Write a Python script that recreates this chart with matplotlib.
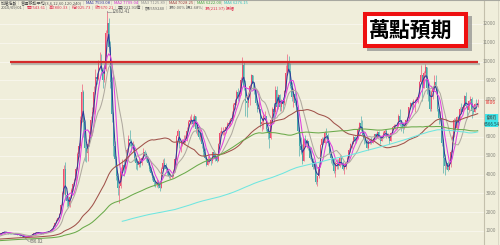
import matplotlib
matplotlib.use("Agg")
import matplotlib.pyplot as plt
import matplotlib.patheffects as pe
from matplotlib.patches import Rectangle
import numpy as np

plt.rcParams['font.family'] = ['Noto Sans CJK TC', 'DejaVu Sans']

# monthly closes before the visible range (1971/01 - 1984/02), only feed the long MAs
hist_close = [
    128, 126, 130, 135, 137, 133, 130, 131, 128, 126, 127, 132,
    135, 140, 150, 160, 155, 150, 160, 170, 180, 195, 210, 228,
    240, 260, 290, 330, 360, 350, 380, 420, 470, 500, 460, 412,
    380, 340, 320, 300, 290, 270, 250, 240, 230, 210, 200, 196,
    230, 270, 300, 320, 330, 340, 320, 330, 340, 335, 345, 348,
    360, 370, 380, 375, 365, 360, 370, 380, 375, 365, 370, 373,
    380, 390, 400, 410, 400, 395, 410, 420, 430, 440, 450, 460,
    470, 500, 530, 560, 600, 620, 650, 680, 688, 640, 600, 583,
    575, 560, 550, 560, 570, 565, 555, 545, 550, 555, 550, 553,
    545, 535, 520, 525, 530, 540, 550, 560, 565, 570, 565, 569,
    575, 580, 585, 590, 580, 570, 560, 555, 550, 545, 548, 551,
    540, 520, 500, 490, 480, 460, 450, 440, 430, 425, 435, 444,
    470, 510, 560, 600, 650, 700, 720, 740, 730, 750, 760, 762,
    800, 840,
]

# visible months 1984/03 - 2010/09
close = [
    880, 930, 960, 930, 900, 880, 870, 850, 840, 838,
    830, 810, 790, 760, 720, 690, 660, 680, 700, 730, 790, 835,
    880, 900, 910, 930, 880, 870, 900, 930, 940, 950, 980, 1039,
    1130, 1280, 1450, 1600, 1700, 1900, 2400, 3000, 4300, 2900, 2600, 2340,
    2800, 3200, 3500, 3700, 4300, 5100, 5500, 6900, 8400, 6800, 5400, 5119,
    5600, 6100, 6900, 7300, 8400, 9200, 9100, 9900, 9900, 9500, 9000, 9624,
    11500, 12050, 10800, 8900, 7200, 5500, 4800, 3900, 3300, 3400, 4200, 4530,
    4300, 4800, 5300, 5900, 5800, 5500, 5500, 4900, 4600, 4500, 4700, 4600,
    4900, 5200, 5100, 4900, 4600, 4300, 4100, 3800, 3600, 3500, 3600, 3377,
    3300, 4300, 4600, 4500, 4300, 4100, 3900, 3900, 3900, 4200, 4800, 6070,
    6300, 5600, 5600, 5700, 5800, 5900, 6300, 6800, 6900, 6900, 6700, 7124,
    6400, 6500, 6000, 6200, 5600, 5200, 4900, 4500, 4800, 4800, 4700, 5173,
    5000, 4800, 4700, 5600, 6200, 6300, 6300, 6300, 6500, 6700, 6700, 6933,
    7000, 7700, 7800, 8400, 8100, 8300, 9000, 9800, 8700, 7900, 7800, 8187,
    8700, 9300, 8800, 8500, 7800, 7500, 7500, 6700, 6800, 7100, 7100, 6418,
    6200, 5950, 6900, 7500, 7300, 8500, 7600, 8200, 7600, 7900, 7800, 8448,
    9400, 9900, 9500, 8700, 8100, 8300, 7800, 7600, 6300, 5500, 5300, 4739,
    5900, 5700, 5800, 5400, 4900, 4800, 4400, 4600, 3600, 3900, 4400, 5551,
    5900, 5700, 6200, 6100, 5700, 5100, 4900, 4800, 4190, 4580, 4600, 4452,
    4900, 4550, 4300, 4400, 4600, 4900, 5300, 5600, 5600, 6000, 5800, 5890,
    6400, 6750, 6500, 6100, 5900, 5800, 5400, 5800, 5850, 5700, 5850, 6139,
    6000, 6250, 6000, 5800, 6000, 6200, 6300, 6000, 6100, 5800, 6200, 6548,
    6600, 6600, 6600, 7100, 6800, 6700, 6500, 6600, 6900, 7000, 7600, 7823,
    7700, 7900, 7900, 8000, 8100, 8900, 9300, 8600, 9400, 9700, 8600, 8506,
    7500, 8400, 8600, 8900, 8600, 7500, 7000, 7000, 5700, 4900, 4460, 4591,
    4250, 4550, 5200, 6000, 6900, 6450, 7080, 6830, 7500, 7340, 7580, 8188,
    7640, 7440, 7920, 8000, 7370, 7330, 7760, 7620, 7806,
]

high = [
    890, 945, 975, 965, 935, 905, 890, 875, 860, 850,
    850, 840, 815, 795, 765, 725, 695, 690, 710, 740, 800, 845,
    900, 920, 925, 950, 935, 890, 910, 945, 960, 965, 995, 1050,
    1150, 1300, 1480, 1640, 1760, 1950, 2450, 3100, 4500, 4673, 3100, 2700,
    2900, 3300, 3600, 3800, 4400, 5200, 5700, 7100, 8789, 8500, 6900, 5700,
    5900, 6300, 7100, 7600, 8700, 9600, 9400, 10100, 10500, 10400, 9700, 9800,
    11700, 12682, 12300, 11100, 9200, 7300, 5800, 5000, 4100, 3700, 4400, 4800,
    4800, 4900, 5400, 6100, 6365, 5900, 5800, 5600, 5000, 4800, 4900, 4800,
    5000, 5391, 5300, 5200, 5000, 4700, 4400, 4200, 3900, 3700, 3750, 3700,
    3450, 4400, 4800, 4900, 4600, 4400, 4200, 4100, 4000, 4300, 4900, 6100,
    6400, 6300, 5800, 5900, 6100, 6100, 6500, 6900, 7100, 7228, 7100, 7200,
    7100, 6800, 6600, 6400, 6200, 5700, 5400, 5000, 5000, 5000, 4900, 5200,
    5300, 5100, 4900, 5700, 6300, 6500, 6500, 6400, 6600, 6800, 6900, 7000,
    7400, 7800, 8000, 8500, 8600, 8500, 9200, 10256, 10000, 9000, 8100, 8400,
    8800, 9337, 9300, 8900, 8600, 7900, 8000, 7500, 7000, 7300, 7400, 7100,
    6500, 6300, 7000, 7600, 7800, 8700, 8700, 8300, 8300, 8000, 8100, 8500,
    9800, 10393, 10300, 9900, 8900, 8600, 8500, 8100, 7700, 6500, 6000, 5600,
    5950, 6100, 5900, 5800, 5500, 5300, 4900, 4700, 4500, 3900, 4500, 5600,
    6000, 6000, 6300, 6484, 6200, 5800, 5200, 5000, 4900, 4700, 4800, 4800,
    5050, 5000, 4700, 4600, 4700, 5000, 5400, 5700, 5800, 6100, 6050, 6000,
    6500, 6800, 7135, 6900, 6300, 6100, 5900, 5800, 5900, 6000, 5950, 6150,
    6200, 6300, 6300, 6100, 6100, 6300, 6400, 6400, 6200, 6150, 6250, 6550,
    6700, 6700, 6700, 7200, 7474, 6900, 6800, 6750, 6950, 7050, 7600, 7850,
    7900, 8000, 8000, 8100, 8200, 8950, 9800, 9300, 9500, 9859, 9700, 8800,
    8500, 8500, 8700, 9300, 9309, 8700, 7600, 7400, 7100, 5900, 5100, 4700,
    4700, 4700, 5300, 6100, 7000, 7000, 7100, 7100, 7600, 7800, 7700, 8200,
    8395, 7650, 7950, 8190, 8100, 7600, 7800, 8000, 8000,
]

low = [
    835, 875, 920, 915, 890, 865, 855, 840, 830, 825,
    815, 800, 780, 750, 710, 680, 636, 650, 670, 695, 725, 780,
    830, 870, 890, 905, 870, 855, 860, 895, 915, 925, 940, 975,
    1030, 1120, 1270, 1430, 1580, 1680, 1880, 2380, 2950, 2650, 2300, 2250,
    2300, 2750, 3100, 3400, 3650, 4250, 4950, 5400, 6800, 6000, 4700, 4650,
    4700, 5500, 6000, 6800, 7200, 8300, 8800, 9000, 9600, 9300, 8600, 8900,
    9500, 11200, 10500, 8600, 6800, 5000, 4400, 3700, 2900, 2485, 3300, 4100,
    3900, 4250, 4700, 5200, 5500, 5200, 5200, 4700, 4300, 4250, 4400, 4400,
    4500, 4800, 4900, 4700, 4500, 4200, 4000, 3700, 3400, 3327, 3350, 3300,
    3135, 3300, 4200, 4300, 4200, 3980, 3800, 3740, 3800, 3850, 4150, 4750,
    5800, 5400, 5200, 5500, 5600, 5700, 5800, 6300, 6700, 6700, 6500, 6600,
    6200, 6100, 5900, 5800, 5400, 5000, 4800, 4474, 4500, 4600, 4500, 4600,
    4900, 4700, 4672, 4700, 5600, 6100, 6100, 6100, 6200, 6400, 6500, 6600,
    6800, 6900, 7500, 7700, 7900, 8000, 8200, 8900, 8500, 7100, 7040, 7600,
    7700, 8600, 8500, 8300, 7700, 7300, 7300, 6500, 6300, 6400, 6900, 6300,
    5900, 5422, 5900, 6800, 7000, 7200, 7400, 7500, 7400, 7400, 7400, 7700,
    8400, 9300, 8900, 8600, 7900, 7600, 7700, 7400, 6200, 5000, 5100, 4555,
    4700, 5600, 5400, 5300, 4800, 4700, 4300, 4300, 3500, 3411, 3800, 4400,
    5500, 5600, 5700, 5900, 5500, 5100, 4600, 4500, 4100, 3850, 4300, 4300,
    4400, 4500, 4250, 4044, 4300, 4600, 4900, 5200, 5400, 5600, 5700, 5700,
    5900, 6300, 6300, 6100, 5600, 5700, 5400, 5316, 5600, 5600, 5700, 5800,
    5900, 6000, 6000, 5600, 5800, 6000, 6100, 5950, 5950, 5618, 5800, 6200,
    6400, 6400, 6400, 6600, 6600, 6300, 6230, 6400, 6600, 6800, 7000, 7500,
    7300, 7500, 7300, 7900, 7800, 8100, 8800, 7900, 8600, 9200, 8300, 7900,
    7384, 7400, 8000, 8500, 8500, 7400, 6700, 6900, 5500, 4100, 3955, 4300,
    4164, 4300, 4400, 5200, 6000, 6300, 6400, 6500, 6900, 7300, 7400, 7500,
    7600, 7000, 7400, 7750, 7000, 7200, 7300, 7500, 7600,
]

ma_periods = [3, 6, 12, 60, 120, 240]
y_ticks = [1000, 2000, 3000, 4000, 5000, 6000, 7000, 8000, 9000, 10000, 11000, 12000]
target_level = 10000
peak_text = '12682.41'
low_text = '636.02'
title_text = '萬點預期'

header_row1 = [
    ('加權指數', '#505050'),
    ('普通移動平均(3,6,12,60,120,240)', '#505050'),
    ('MA1 7593.08', '#3030a0'),
    ('MA2 7709.04', '#d030d0'),
    ('MA3 7125.89', '#909090'),
    ('MA4 7028.25', '#a04040'),
    ('MA5 6222.00', '#40a040'),
    ('MA6 6276.15', '#30c0c0'),
]
header_row2 = [
    ('2010/09/01', '#505050'),
    ('開7543.61', '#e03050'),
    ('高7800.33', '#e03050'),
    ('低7025.73', '#e03050'),
    ('收7670.21', '#e03050'),
    ('量3221.91億', '#606060'),
    ('額5559240', '#606060'),
    ('漲0.00% 振2.68%', '#606060'),
    ('漲(211.97) 振幅', '#e03050'),
]

ma_colors = ['#2c3a9a', '#e040e0', '#b0aaa0', '#a0524a', '#6aaa4a', '#6ee6e0']
bg = '#f0eedb'
up_col = '#ee4f70'
down_col = '#45aaa8'

W, H = 500, 245


def fx(px):
    return px / W


def fy(py):
    return 1 - py / H


fig = plt.figure(figsize=(5.0, 2.45), dpi=100, facecolor=bg)
ax = fig.add_axes([0, 0, 484 / W, 1])
ax.set_facecolor(bg)
ax.set_xlim(-0.5, 322.2)
ax.set_ylim(255, 13273)
ax.axis('off')

for t in y_ticks:
    ax.axhline(t, color='#f8f6ec', lw=0.7, zorder=0)

n = len(close)
xs = np.arange(n)
opens = np.array([hist_close[-1]] + close[:-1], dtype=float)
c = np.array(close, dtype=float)
up = c >= opens
cols = np.where(up, up_col, down_col)
ax.vlines(xs, low, high, colors=cols, lw=0.45, zorder=2)
body = np.where(np.abs(c - opens) < 30, 30, c - opens)
ax.bar(xs, body, bottom=opens, width=0.6, color=cols, linewidth=0, zorder=2)

full = np.array(hist_close + close, dtype=float)
offset = len(hist_close)
for p, col in zip(ma_periods, ma_colors):
    ma = np.convolve(full, np.ones(p) / p, mode='valid')
    mx = np.arange(p - 1, len(full)) - offset
    keep = mx >= -1
    ax.plot(mx[keep], ma[keep], color=col, lw=0.75, zorder=3)

# 10000 target line with a soft shadow
ax.plot([6, 318.5], [target_level, target_level], color='#d42a2a', lw=1.6, zorder=4,
        solid_capstyle='butt',
        path_effects=[pe.SimpleLineShadow(offset=(0.8, -1.6), shadow_color='#777', alpha=0.45),
                      pe.Normal()])

# peak / low markers (leaders in data units, labels in pixels)
ipk = int(np.argmax(high))
ax.plot([ipk, ipk, ipk + 2.5], [high[ipk], 12660, 12660], color='#909090', lw=0.5, zorder=4)
fig.text(fx(112), fy(11.6), peak_text, fontsize=3.2, color='#606060', va='center', ha='left')
ilo = int(np.argmin(low))
ax.plot([ilo, ilo + 3], [low[ilo], 430], color='#909090', lw=0.5, zorder=4)
ax.text(ilo + 3.5, 430, low_text, fontsize=3.2, color='#606060', va='center', zorder=5)

# right scale strip
fig.add_artist(plt.Line2D([fx(484), fx(484)], [0, 1], color='#c4c0ac', lw=0.8))
fig.add_artist(plt.Line2D([fx(497.5), fx(497.5)], [0, 1], color='#d8d4c2', lw=0.6))
fig.add_artist(plt.Line2D([0, 1], [fy(0.5), fy(0.5)], color='#a8a8a0', lw=0.8))
for t in y_ticks:
    ypix = 249.8 - t * 0.01882
    fig.text(fx(496), fy(ypix), str(t), fontsize=3.4, color='#8a8a80',
             ha='right', va='center')

fig.text(fx(496), fy(103), '7806', fontsize=3.6, color='#e83030', ha='right', va='center')
fig.add_artist(Rectangle((fx(484.5), fy(127.5)), fx(14), 13.5 / H, transform=fig.transFigure,
                         facecolor='#3ee6ea', edgecolor='none'))
fig.text(fx(491.5), fy(117.5), '(267)', fontsize=3.2, color='#204040', ha='center', va='center')
fig.text(fx(491.5), fy(124), '6566.54', fontsize=3.2, color='#204040', ha='center', va='center')

# header rows, laid out left to right with measured widths
renderer = fig.canvas.get_renderer()


def header_row(parts, ypix, size):
    xpix = 1.0
    for i, (txt, col) in enumerate(parts):
        t = fig.text(fx(xpix), fy(ypix), txt, fontsize=size, color=col,
                     va='center', ha='left')
        w = t.get_window_extent(renderer).width
        xpix += w + 2.0
        if i < len(parts) - 1:
            fig.text(fx(xpix - 1.8), fy(ypix), '|', fontsize=size, color='#a0a0a0',
                     va='center', ha='left')
            xpix += 1.6


header_row(header_row1, 3.2, 3.0)
header_row(header_row2, 7.8, 3.0)

# title box with shadow
fig.add_artist(Rectangle((fx(367), fy(51)), fx(105), 35 / H, transform=fig.transFigure,
                         facecolor='#8c8c8c', edgecolor='none', alpha=0.7))
fig.add_artist(Rectangle((fx(365), fy(46)), fx(101), 32 / H, transform=fig.transFigure,
                         facecolor='white', edgecolor='#ee1010', lw=2.9))
fig.text(fx(411), fy(30), title_text, fontsize=15, fontweight='bold', color='black',
         ha='center', va='center')

fig.savefig('out.png', dpi=100, facecolor=bg)
